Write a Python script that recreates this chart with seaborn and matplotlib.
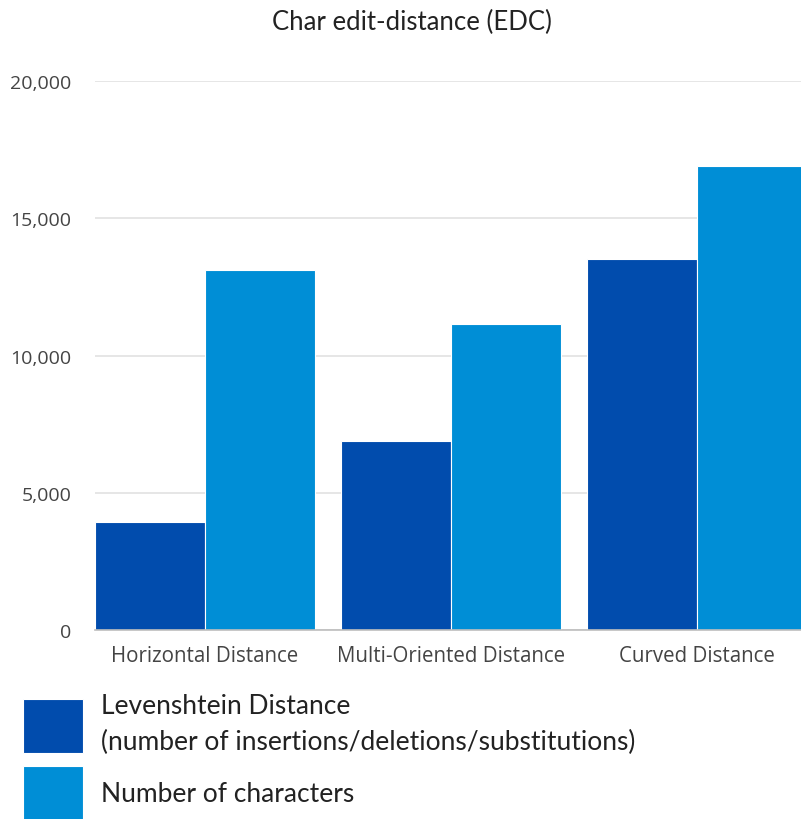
import matplotlib
matplotlib.use("Agg")
import matplotlib.pyplot as plt
import seaborn as sns
import pandas as pd
from matplotlib.ticker import FuncFormatter

# Data
categories = ["Horizontal Distance", "Multi-Oriented Distance", "Curved Distance"]
levenshtein = [3930, 6880, 13520]
num_chars = [13110, 11150, 16900]
series_names = ["Levenshtein Distance\n(number of insertions/deletions/substitutions)",
                "Number of characters"]
colors = ["#014CAD", "#008ED6"]
yticks = [0, 5000, 10000, 15000, 20000]

df = pd.DataFrame({
    "category": categories * 2,
    "value": levenshtein + num_chars,
    "series": [series_names[0]] * 3 + [series_names[1]] * 3,
})

sns.set_theme(style="white")
plt.rcParams["font.family"] = ["Open Sans", "DejaVu Sans"]

fig = plt.figure(figsize=(8.01, 8.20), dpi=100)
ax = fig.add_axes([95 / 801, 189 / 820, (801 - 95) / 801, (631 - 82) / 820])

sns.barplot(data=df, x="category", y="value", hue="series", order=categories,
            hue_order=series_names, palette=colors, width=0.894, gap=0.0,
            edgecolor="white", linewidth=0.8, saturation=1, ax=ax, legend=True)

ax.set_xlim(-0.447, 2.423)
ax.set_ylim(0, 20000)
ax.set_yticks(yticks)
ax.yaxis.set_major_formatter(FuncFormatter(lambda v, _: f"{int(v):,}"))
ax.grid(axis="y", color="#E2E2E2", linewidth=1.2)
ax.set_axisbelow(True)
for s in ["top", "right", "left"]:
    ax.spines[s].set_visible(False)
ax.spines["bottom"].set_color("#BDBDBD")
ax.spines["bottom"].set_linewidth(1.2)
ax.tick_params(axis="y", length=0, pad=17, labelsize=14, labelcolor="#444444")
ax.tick_params(axis="x", length=0, pad=11, labelsize=14.8, labelcolor="#444444")
ax.set_xlabel("")
ax.set_ylabel("")

fig.text(412 / 801, 1 - 22 / 820, "Char edit-distance (EDC)", ha="center", va="center",
         fontsize=18.5, color="#222222", family=["Lato", "DejaVu Sans"])

handles, labels = ax.get_legend_handles_labels()
ax.legend_.remove()
leg = fig.legend(handles, labels, loc="upper left", bbox_to_anchor=(23 / 801, 1 - 694 / 820),
                 frameon=False, handlelength=2.27, handleheight=2.77,
                 handletextpad=0.7, labelspacing=0.45, borderpad=0, borderaxespad=0,
                 prop={"family": ["Lato", "DejaVu Sans"], "size": 19})
for t in leg.get_texts():
    t.set_color("#222222")
    t.set_linespacing(1.55)

fig.savefig("out.png", dpi=100)
